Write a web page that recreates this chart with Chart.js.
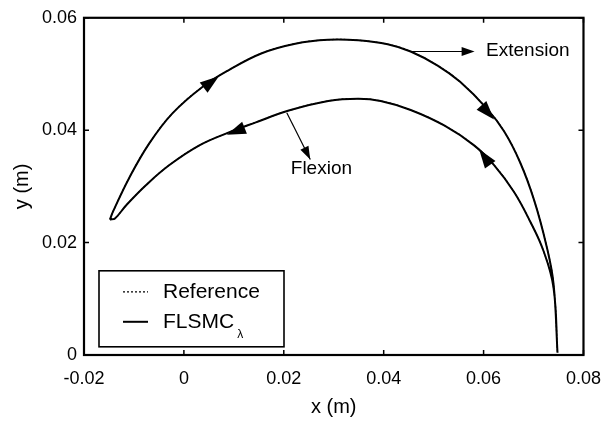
<!DOCTYPE html>
<html>
<head>
<meta charset="utf-8">
<script src="https://cdn.jsdelivr.net/npm/chart.js@4.4.0/dist/chart.umd.min.js"></script>
<style>
  html, body { margin: 0; padding: 0; background: #ffffff; }
</style>
</head>
<body>
<canvas id="trajChart" width="614" height="422"></canvas>
<script>
// Hand trajectory: extension stroke (tip -> far end) then flexion stroke (back)
const extX = [-0.0148, -0.0142, -0.0109, -0.0069, -0.0023, 0.0037, 0.0090, 0.0156, 0.0223, 0.0289,
              0.0349, 0.0408, 0.0454, 0.0508, 0.0553, 0.0607, 0.0641, 0.0673, 0.0701, 0.0726, 0.0740, 0.0748];
const extY = [0.0241, 0.0255, 0.0316, 0.0377, 0.0430, 0.0477, 0.0507, 0.0537, 0.0554, 0.0561,
              0.0560, 0.0553, 0.0540, 0.0515, 0.0486, 0.0438, 0.0398, 0.0343, 0.0276, 0.0194, 0.0127, 0.0004];
const flexX = [0.0748, 0.0740, 0.0720, 0.0693, 0.0661, 0.0621, 0.0581, 0.0522, 0.0454, 0.0394, 0.0349,
               0.0289, 0.0210, 0.0144, 0.0090, 0.0031, -0.0029, -0.0075, -0.0115, -0.0138, -0.0148];
const flexY = [0.0004, 0.0120, 0.0185, 0.0238, 0.0290, 0.0338, 0.0373, 0.0408, 0.0436, 0.0452, 0.0456,
               0.0452, 0.0435, 0.0414, 0.0396, 0.0373, 0.0338, 0.0303, 0.0267, 0.0243, 0.0241];

const xTicks = [-0.02, 0, 0.02, 0.04, 0.06, 0.08];
const xTickLabels = ['-0.02', '0', '0.02', '0.04', '0.06', '0.08'];
const yTicks = [0, 0.02, 0.04, 0.06];
const yTickLabels = ['0', '0.02', '0.04', '0.06'];

const FONT = '"Liberation Sans", Arial, Helvetica, sans-serif';

// direction arrows on the curves: [tipX, tipY, fromX, fromY] in data units
const curveArrows = [
    [0.0070, 0.0496, 0.0031, 0.0470],
    [0.0621, 0.0419, 0.0591, 0.0449],
    [0.0591, 0.0366, 0.0617, 0.0334],
    [0.0086, 0.0392, 0.0126, 0.0406]
];

function toPoints(xs, ys) {
    return xs.map((x, i) => ({ x: x, y: ys[i] }));
}
const loop = toPoints(extX, extY).concat(toPoints(flexX, flexY));

function arrowHead(ctx, tx, ty, fx, fy, len, half) {
    const a = Math.atan2(ty - fy, tx - fx);
    const bx = tx - len * Math.cos(a), by = ty - len * Math.sin(a);
    ctx.beginPath();
    ctx.moveTo(tx, ty);
    ctx.lineTo(bx + half * Math.sin(a), by - half * Math.cos(a));
    ctx.lineTo(bx - half * Math.sin(a), by + half * Math.cos(a));
    ctx.closePath();
    ctx.fill();
}

// box, inward ticks, arrows, labels and the legend
const decorPlugin = {
    id: 'decor',
    afterDatasetsDraw(chart) {
        const ctx = chart.ctx;
        const a = chart.chartArea;
        const sx = chart.scales.x, sy = chart.scales.y;
        ctx.save();
        ctx.strokeStyle = '#000';
        ctx.fillStyle = '#000';

        ctx.lineWidth = 1.5;
        xTicks.forEach(v => {
            const px = sx.getPixelForValue(v);
            ctx.beginPath();
            ctx.moveTo(px, a.bottom); ctx.lineTo(px, a.bottom - 5);
            ctx.moveTo(px, a.top); ctx.lineTo(px, a.top + 5);
            ctx.stroke();
        });
        yTicks.forEach(v => {
            const py = sy.getPixelForValue(v);
            ctx.beginPath();
            ctx.moveTo(a.left, py); ctx.lineTo(a.left + 5, py);
            ctx.moveTo(a.right, py); ctx.lineTo(a.right - 5, py);
            ctx.stroke();
        });
        ctx.lineWidth = 2.2;
        ctx.strokeRect(a.left, a.top, a.right - a.left, a.bottom - a.top);

        curveArrows.forEach(r => {
            arrowHead(ctx, sx.getPixelForValue(r[0]), sy.getPixelForValue(r[1]),
                      sx.getPixelForValue(r[2]), sy.getPixelForValue(r[3]), 19, 6.5);
        });

        // Extension label
        ctx.lineWidth = 1.2;
        let x0 = sx.getPixelForValue(0.0452), y0 = sy.getPixelForValue(0.0540);
        let x1 = sx.getPixelForValue(0.0582);
        ctx.beginPath(); ctx.moveTo(x0, y0); ctx.lineTo(x1 - 8, y0); ctx.stroke();
        arrowHead(ctx, x1, y0, x0, y0, 13, 4.5);
        ctx.font = '19px ' + FONT;
        ctx.textBaseline = 'middle';
        ctx.textAlign = 'left';
        ctx.fillText('Extension', sx.getPixelForValue(0.0605), y0 - 1);

        // Flexion label
        x0 = sx.getPixelForValue(0.0206); y0 = sy.getPixelForValue(0.0431);
        x1 = sx.getPixelForValue(0.0253); let y1 = sy.getPixelForValue(0.0348);
        ctx.beginPath(); ctx.moveTo(x0, y0); ctx.lineTo(x1, y1); ctx.stroke();
        arrowHead(ctx, x1, y1, x0, y0, 13, 4.5);
        ctx.fillText('Flexion', sx.getPixelForValue(0.0214), sy.getPixelForValue(0.0331));

        // legend box
        const lx = a.left + 15, ly = a.top + 253, lw = 185, lh = 76;
        ctx.fillStyle = '#fff';
        ctx.fillRect(lx, ly, lw, lh);
        ctx.strokeStyle = '#000';
        ctx.lineWidth = 1.6;
        ctx.strokeRect(lx, ly, lw, lh);
        chart.data.datasets.forEach((ds, i) => {
            const cy = ly + 21 + i * 30;
            ctx.lineWidth = ds.borderWidth;
            ctx.setLineDash(ds.borderDash || []);
            ctx.beginPath();
            ctx.moveTo(lx + 24, cy); ctx.lineTo(lx + 49, cy);
            ctx.stroke();
            ctx.setLineDash([]);
            ctx.fillStyle = '#000';
            ctx.font = '21px ' + FONT;
            const parts = ds.label.split('_');
            ctx.fillText(parts[0], lx + 64, cy);
            if (parts[1]) {
                const w = ctx.measureText(parts[0]).width;
                ctx.font = '12px ' + FONT;
                ctx.fillText(parts[1], lx + 64 + w + 3, cy + 13);
            }
        });
        ctx.restore();
    }
};

new Chart(document.getElementById('trajChart'), {
    type: 'scatter',
    data: {
        datasets: [{
            label: 'Reference',
            data: loop,
            showLine: true,
            borderColor: '#000',
            borderWidth: 1.2,
            borderDash: [2, 2],
            pointRadius: 0,
            tension: 0.4
        }, {
            label: 'FLSMC_λ',
            data: loop,
            showLine: true,
            borderColor: '#000',
            borderWidth: 2,
            pointRadius: 0,
            tension: 0.4
        }]
    },
    options: {
        responsive: false,
        animation: false,
        devicePixelRatio: 1,
        layout: { padding: { top: 14, right: 27, left: 0, bottom: 0 } },
        plugins: {
            legend: { display: false },
            tooltip: { enabled: false }
        },
        scales: {
            x: {
                type: 'linear',
                min: -0.02,
                max: 0.08,
                grid: { display: false, drawTicks: false },
                border: { display: false },
                afterBuildTicks: s => { s.ticks = xTicks.map(v => ({ value: v })); },
                afterFit: s => { s.height = 67; },
                ticks: {
                    color: '#000',
                    padding: 13,
                    maxRotation: 0,
                    font: { family: FONT, size: 18 },
                    callback: (v, i) => xTickLabels[i]
                },
                title: {
                    display: true,
                    text: 'x (m)',
                    color: '#000',
                    font: { family: FONT, size: 20 },
                    padding: { top: 0, bottom: 3 }
                }
            },
            y: {
                type: 'linear',
                min: 0,
                max: 0.06,
                grid: { display: false, drawTicks: false },
                border: { display: false },
                afterBuildTicks: s => { s.ticks = yTicks.map(v => ({ value: v })); },
                afterFit: s => { s.width = 84; },
                ticks: {
                    color: '#000',
                    padding: 7,
                    font: { family: FONT, size: 18 },
                    callback: (v, i) => yTickLabels[i]
                },
                title: {
                    display: true,
                    text: 'y (m)',
                    color: '#000',
                    font: { family: FONT, size: 20 },
                    padding: { top: 10, bottom: 0 }
                }
            }
        }
    },
    plugins: [decorPlugin]
});
</script>
</body>
</html>
